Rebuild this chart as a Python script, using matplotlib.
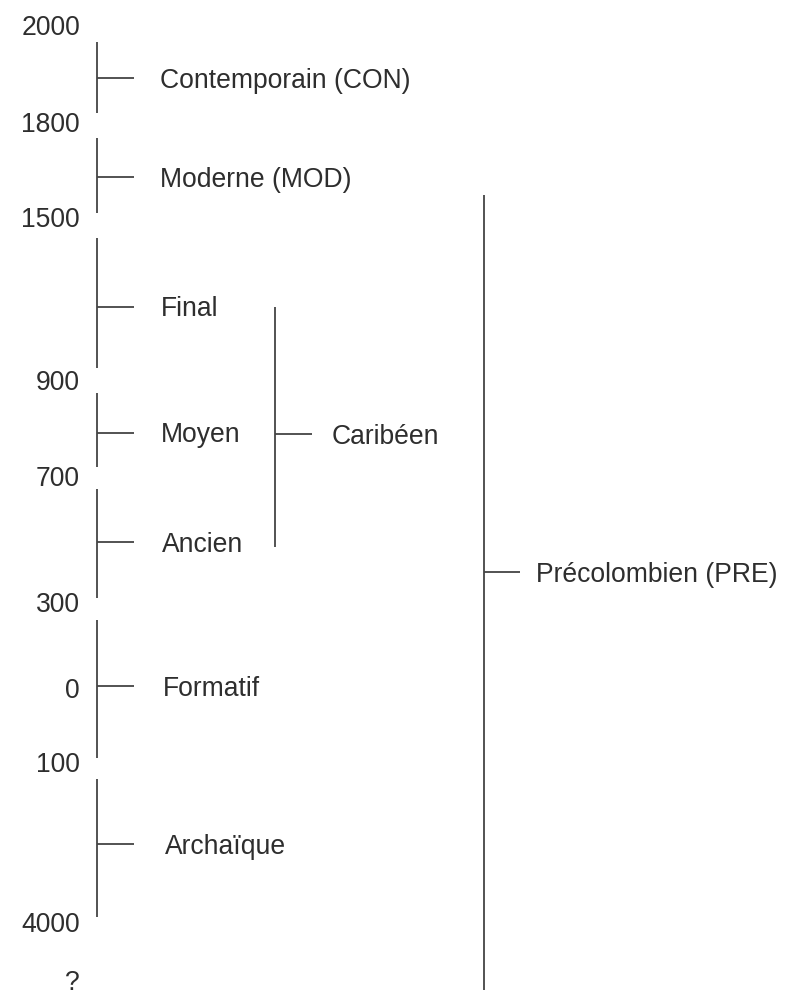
import matplotlib
matplotlib.use("Agg")
import matplotlib.pyplot as plt

# --- data ---
date_labels = ["2000", "1800", "1500", "900", "700", "300", "0", "100", "4000", "?"]
periods = ["Contemporain (CON)", "Moderne (MOD)", "Final", "Moyen", "Ancien",
           "Formatif", "Archaïque"]
group_caribeen = "Caribéen"
group_pre = "Précolombien (PRE)"

# --- layout (pixel space of the figure) ---
date_y = [25, 122, 217, 380, 476, 603, 688, 763, 923, 981]
period_top = [42, 138, 238, 393, 489, 620, 779]
period_bot = [113, 213, 368, 467, 598, 758, 917]
period_tick = [78, 177, 307, 433, 542, 686, 844]
period_text_x = [160, 160, 161, 161, 162, 163, 165]
car_span = (307, 547)
car_tick = 434
pre_span = (195, 990)
pre_tick = 572

W, H = 785, 998
fig = plt.figure(figsize=(W / 100, H / 100), dpi=100)
ax = fig.add_axes([0, 0, 1, 1])
ax.set_xlim(0, W)
ax.set_ylim(H, 0)
ax.axis("off")

txt = "#2e2e2e"
ln = "#444444"
lw = 1.3
fs = 19.1
font = "Liberation Sans"
dy = 2.5

for lab, y in zip(date_labels, date_y):
    ax.text(80, y + dy, lab, ha="right", va="center", fontsize=fs, color=txt, family=font)

bar_x = 97
for name, t, b, tk, tx in zip(periods, period_top, period_bot, period_tick, period_text_x):
    ax.plot([bar_x, bar_x], [t, b], color=ln, lw=lw, solid_capstyle="butt")
    ax.plot([bar_x, bar_x + 37], [tk, tk], color=ln, lw=lw, solid_capstyle="butt")
    ax.text(tx, tk + dy, name, ha="left", va="center", fontsize=fs, color=txt, family=font)

# Caribéen bracket
cx = 275
ax.plot([cx, cx], list(car_span), color=ln, lw=lw, solid_capstyle="butt")
ax.plot([cx, cx + 37], [car_tick, car_tick], color=ln, lw=lw, solid_capstyle="butt")
ax.text(332, car_tick + dy, group_caribeen, ha="left", va="center", fontsize=fs, color=txt, family=font)

# Précolombien bracket
px = 484
ax.plot([px, px], list(pre_span), color=ln, lw=lw, solid_capstyle="butt")
ax.plot([px, px + 36], [pre_tick, pre_tick], color=ln, lw=lw, solid_capstyle="butt")
ax.text(536, pre_tick + dy, group_pre, ha="left", va="center", fontsize=fs, color=txt, family=font)

fig.savefig("out.png", dpi=100, facecolor="white")
